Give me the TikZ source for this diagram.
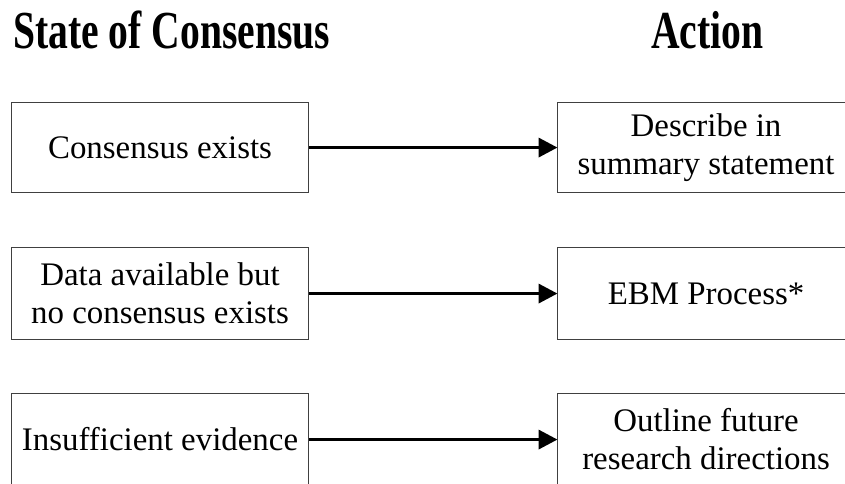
\documentclass[tikz,border=0pt]{standalone}
\usepackage{fontspec}
\setmainfont{Liberation Serif}
\usetikzlibrary{arrows.meta}
\newcommand{\tallhead}[1]{\scalebox{1}[1.35]{#1}}
\begin{document}
\begin{tikzpicture}[x=1pt,y=-1pt,
  box/.style={draw=black!75,line width=1.1pt,minimum width=297pt,minimum height=#1,inner sep=0pt,align=center,font=\fontsize{32.9}{38}\selectfont,anchor=north west},
  box/.default=90pt,
  head/.style={font=\fontsize{39.6}{44}\selectfont\bfseries,anchor=base west,inner sep=0pt},
  flow/.style={line width=3.6pt,-{Triangle[length=19pt,width=19pt]},shorten >=-0.5pt}]
\useasboundingbox (0,0) rectangle (845,483);
\clip (0,0) rectangle (845,483);
\node[head] (h1) at (13,48) {\tallhead{State of Consensus}};
\node[head] (h2) at (651,48) {\tallhead{Action}};
\node[box] (l1) at (11,102) {Consensus exists};
\node[box] (r1) at (557,102) {Describe in\\summary statement};
\node[box=92pt] (l2) at (11,247) {Data available but\\no consensus exists};
\node[box=92pt] (r2) at (557,247) {EBM Process*};
\node[box=92pt] (l3) at (11,393) {Insufficient evidence};
\node[box=92pt] (r3) at (557,393) {Outline future\\research directions};
\draw[flow] (l1) -- (r1);
\draw[flow] (l2) -- (r2);
\draw[flow] (l3) -- (r3);
\end{tikzpicture}
\end{document}
